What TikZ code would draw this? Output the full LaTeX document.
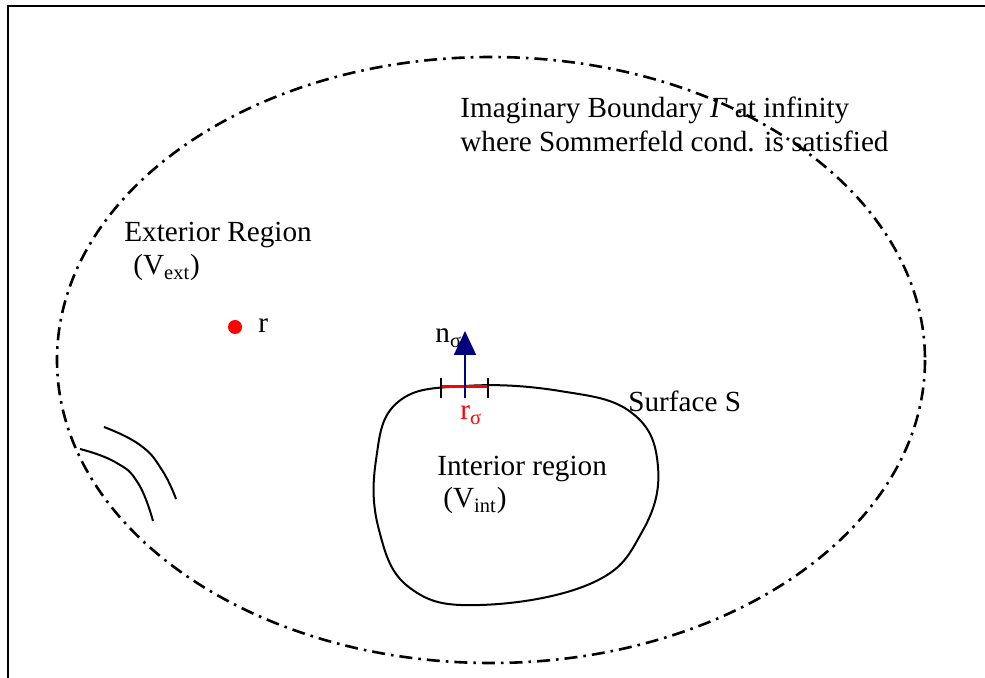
\documentclass[tikz,border=0pt]{standalone}
\usepackage{fontspec}
\setmainfont{Liberation Serif}
\usetikzlibrary{arrows.meta}
\definecolor{navyblue}{RGB}{0,0,128}

\begin{document}
\begin{tikzpicture}[x=0.5pt, y=-0.5pt,
    lbl/.style={anchor=base west, inner sep=0pt, font=\fontsize{14.6}{17}\selectfont},
    bnd/.style={line width=1.3pt, dash pattern=on 6.5pt off 3pt on 1.3pt off 3pt},
    srf/.style={line width=1pt}]
    \useasboundingbox (0,0) rectangle (985,678);
    \clip (0,0) rectangle (985,678);
    \draw[line width=1.1pt] (8,6) rectangle (1010,700);

    % Frontera imaginaria en el infinito
    \draw[bnd] (491,360) ellipse [x radius=434, y radius=303];
    \node[lbl] (gam1) at (460,118) {Imaginary Boundary \textit{Γ} at infinity};
    \node[lbl] (gam2) at (460,152) {where Sommerfeld cond. is satisfied};

    % Region exterior y punto r
    \node[lbl] (ext) at (124,242) {Exterior Region};
    \node[lbl] (vext) at (133,275) {(V\textsubscript{ext})};
    \fill[red] (235,327) circle (7);
    \node[lbl] (rpt) at (258,333) {r};

    % Superficie S
    \draw[srf] plot[smooth cycle, tension=0.7] coordinates {
        (465,386) (560,391) (632,413) (658,467) (642,532) (592,583)
        (480,605) (410,588) (379,530) (376,460) (398,402)};
    \node[lbl] (surf) at (628,412) {Surface S};
    \node[lbl] (int) at (437,475) {Interior region};
    \node[lbl] (vint) at (443,508) {(V\textsubscript{int})};

    % Elemento de superficie y normal
    \coordinate (sa) at (441,386.5);
    \coordinate (sb) at (488,386.5);
    \coordinate (nbot) at (465,398);
    \coordinate (ntop) at (465,331);
    \draw[red, line width=1.4pt] (sa) -- (sb);
    \draw[line width=0.8pt] (441,378) -- (441,398) (488,378) -- (488,398);
    \draw[navyblue, line width=1pt, -{Triangle[length=12pt, width=11pt]}] (nbot) -- (ntop);
    \node[lbl] (nsig) at (435,343) {n\textsubscript{σ}};
    \node[lbl, text=red] (rsig) at (460,420) {r\textsubscript{σ}};

    % Lineas curvas
    \draw[srf] plot[smooth, tension=0.8] coordinates {(104,427) (140,445) (162,470) (176,499)};
    \draw[srf] plot[smooth, tension=0.8] coordinates {(80,449) (115,462) (138,483) (153,521)};
\end{tikzpicture}
\end{document}
